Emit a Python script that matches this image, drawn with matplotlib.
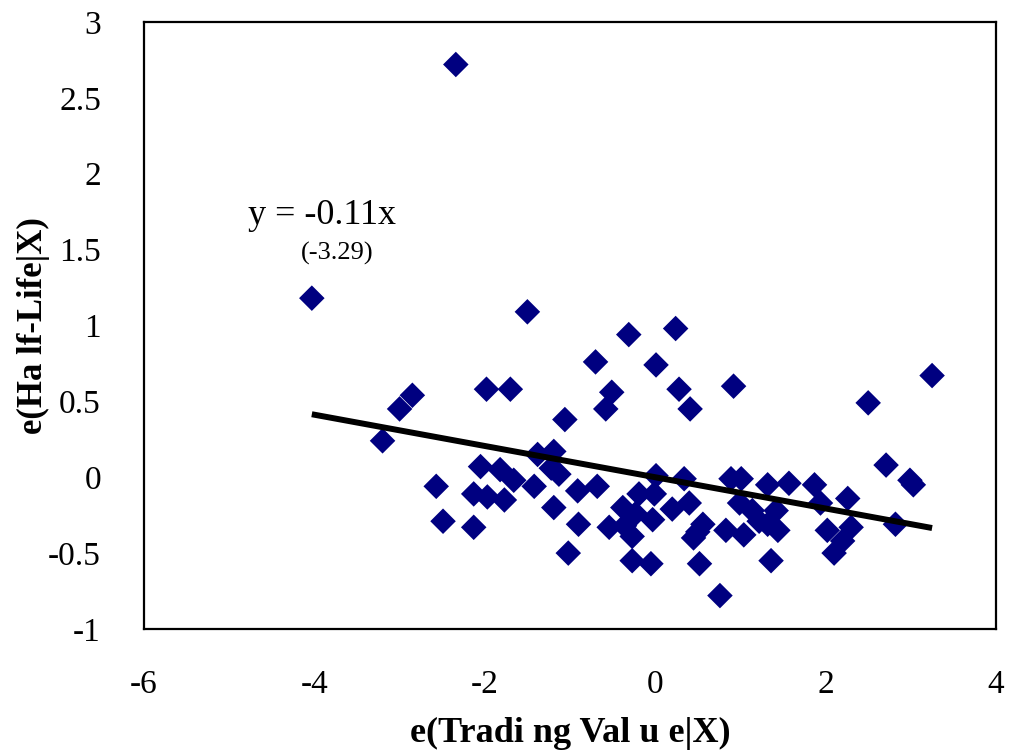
import numpy as np
import matplotlib
matplotlib.use("Agg")
import matplotlib.pyplot as plt

plt.rcParams['font.family'] = ['Liberation Serif', 'DejaVu Serif']
plt.rcParams['axes.unicode_minus'] = False

# residuals
trading_x = [-2.34, -4.03, -1.50, 0.24, -0.31, -0.70, 0.01, 0.92, 3.25, 2.50,
             -1.98, -1.70, 0.28, -0.51, -2.85, -3.00, -0.58, 0.41, -1.06, -3.20,
             -1.19, -1.38, 2.71, -2.05, -1.82, -1.22, -1.13, -1.66, 0.01, 0.34,
             0.89, 1.01, 2.99, 3.03, -2.57, -1.42, -0.68, 1.32, 1.57, 1.87,
             -0.91, -2.13, -1.97, -1.77, -0.19, -0.01, 0.40, 0.99, 1.94, 2.26,
             -1.19, -0.38, 0.20, 1.14, 1.42, -0.23, -0.03, -2.49, -0.90, -0.54,
             -0.36, 0.56, 1.32, 1.22, -2.13, 2.82, 2.02, 2.30, -0.27, 0.45,
             0.50, 0.83, 1.04, 1.44, 2.20, 2.10, -1.02, -0.27, -0.05, 0.52,
             1.36, 0.76]
halflife_y = [2.72, 1.18, 1.09, 0.98, 0.94, 0.76, 0.74, 0.60, 0.67, 0.49,
              0.58, 0.58, 0.58, 0.56, 0.54, 0.45, 0.45, 0.45, 0.38, 0.24,
              0.17, 0.15, 0.08, 0.07, 0.05, 0.06, 0.02, -0.02, 0.01, -0.01,
              -0.01, -0.01, -0.02, -0.05, -0.06, -0.06, -0.06, -0.05, -0.04, -0.05,
              -0.09, -0.11, -0.13, -0.15, -0.11, -0.11, -0.17, -0.17, -0.17, -0.14,
              -0.20, -0.20, -0.21, -0.22, -0.22, -0.24, -0.28, -0.29, -0.31, -0.33,
              -0.32, -0.31, -0.31, -0.29, -0.33, -0.31, -0.35, -0.33, -0.39, -0.40,
              -0.36, -0.35, -0.38, -0.35, -0.42, -0.50, -0.50, -0.55, -0.57, -0.57,
              -0.55, -0.78]
slope = -0.103

x_ticks = [-6, -4, -2, 0, 2, 4]
y_ticks = [-1, -0.5, 0, 0.5, 1, 1.5, 2, 2.5, 3]
y_tick_labels = ['-1', '-0.5', '0', '0.5', '1', '1.5', '2', '2.5', '3']


def main():
    fig = plt.figure(figsize=(10.09, 7.51), dpi=100)
    ax = fig.add_axes([0.1427, 0.1625, 0.8444, 0.8082])

    ax.scatter(trading_x, halflife_y, marker='D', s=13 ** 2, color='#000080',
               edgecolors='none', zorder=2)

    lx = np.array([min(trading_x), max(trading_x)])
    ax.plot(lx, slope * lx, color='black', lw=4.3, solid_capstyle='butt', zorder=3)

    # equation placed in pixel coords measured from the top
    ax.text(322, 751 - 215, 'y = -0.11x', fontsize=26, ha='center', va='center',
            transform=None)
    ax.text(337, 751 - 253, '(-3.29)', fontsize=19, ha='center', va='center',
            transform=None)

    ax.set_xlim(-6, 4)
    ax.set_ylim(-1, 3)
    ax.set_xticks(x_ticks)
    ax.set_yticks(y_ticks)
    ax.set_yticklabels(y_tick_labels)
    ax.tick_params(length=0, labelsize=24)
    ax.tick_params(axis='x', pad=29)
    ax.tick_params(axis='y', pad=31)
    for sp in ax.spines.values():
        sp.set_linewidth(1.6)

    ax.set_xlabel('e(Tradi ng Val u e|X)', fontsize=26, fontweight='bold')
    ax.set_ylabel('e(Ha lf-Life|X)', fontsize=25, fontweight='bold')
    ax.xaxis.set_label_coords(0.5, -0.145)
    ax.yaxis.set_label_coords(-0.11, 0.5)

    fig.savefig('out.png', dpi=100)


if __name__ == "__main__":
    main()
